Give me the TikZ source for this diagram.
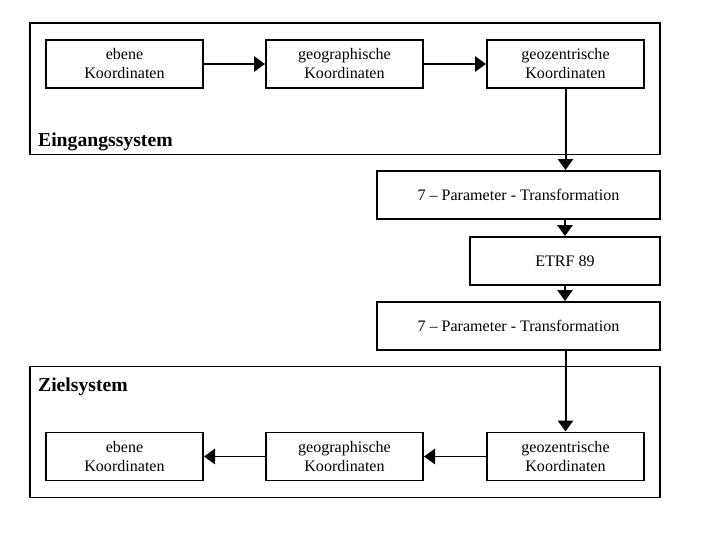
\documentclass[tikz,border=0pt]{standalone}
\usepackage{fontspec}
\setmainfont{Liberation Serif}
\usetikzlibrary{arrows.meta,positioning,calc}
\begin{document}
\begin{tikzpicture}[x=0.03cm,y=-0.03cm,font=\fontsize{13.7}{16.2}\selectfont]

        % Setup the styles
        \tikzset{sys style/.style={rectangle,
                                   draw=black,
                                   line width=1.7pt,
                                   minimum width=18.9cm,
                                   minimum height=3.93cm},
                 box style/.style={rectangle,
                                   draw=black,
                                   line width=1.7pt,
                                   align=center,
                                   inner sep=0pt,
                                   minimum width=4.71cm,
                                   minimum height=1.44cm},
                 wide style/.style={box style,
                                    minimum width=8.49cm},
                 label style/.style={anchor=west,
                                     font=\fontsize{16.8}{19}\selectfont\bfseries},
                 link/.style={line width=1.7pt,
                              -{Triangle[length=0.33cm,width=0.46cm]}}}

        \useasboundingbox (0,0) rectangle (720,540);

        % Draw the systems
        \node[sys style] at (345, 89)  (ein) {};
        \node[sys style] at (345, 432) (ziel) {};
        \node[label style] at (34, 141.5) (einlabel) {Eingangssystem};
        \node[label style] at (34, 387) (ziellabel) {Zielsystem};

        % Draw the boxes
        \node[box style] at (124.5, 64)  (ebene1) {ebene\\Koordinaten};
        \node[box style] at (344.5, 64)  (geog1)  {geographische\\Koordinaten};
        \node[box style] at (565.5, 64)  (geoz1)  {geozentrische\\Koordinaten};
        \node[wide style] at (518.5, 195) (trans1) {7 -- Parameter - Transformation};
        \node[box style, minimum width=5.7cm] at (565, 261) (etrf) {ETRF 89};
        \node[wide style] at (518.5, 326) (trans2) {7 -- Parameter - Transformation};
        \node[box style] at (124.5, 456.5) (ebene2) {ebene\\Koordinaten};
        \node[box style] at (344.5, 456.5) (geog2)  {geographische\\Koordinaten};
        \node[box style] at (565.5, 456.5) (geoz2)  {geozentrische\\Koordinaten};

        % Connect the boxes with arrows
        \draw[link] (ebene1) -- (geog1);
        \draw[link] (geog1) -- (geoz1);
        \draw[link] (geoz1.south) -- (geoz1.south |- trans1.north);
        \draw[link] (trans1.south -| etrf.north) -- (etrf.north);
        \draw[link] (etrf.south) -- (etrf.south |- trans2.north);
        \draw[link] (trans2.south -| geoz2.north) -- (geoz2.north);
        \draw[link] (geoz2) -- (geog2);
        \draw[link] (geog2) -- (ebene2);
\end{tikzpicture}
\end{document}
